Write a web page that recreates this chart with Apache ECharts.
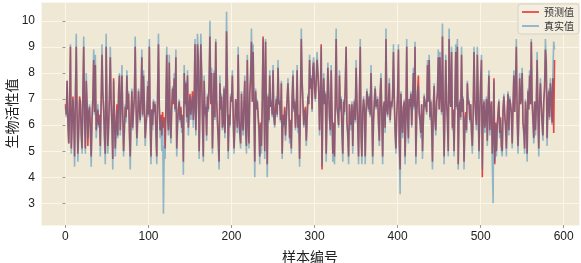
<!DOCTYPE html>
<html><head><meta charset="utf-8">
<script src="https://cdn.jsdelivr.net/npm/echarts@6/dist/echarts.min.js"></script>
<style>html,body{margin:0;padding:0;background:#fff}#c{width:581px;height:263px}</style>
</head><body><div id="c"></div>
<script>
const seriesNames = ['预测值', '真实值'];
const xAxisTitle = '样本编号';
const yAxisTitle = '生物活性值';

const trueVals = [
6.7,6.3,7.7,6.0,5.3,6.8,9.1,4.9,5.9,7.0,
6.1,4.4,7.2,9.5,6.3,4.6,5.8,7.0,6.8,5.6,
4.9,7.3,9.4,6.0,4.9,8.0,6.9,5.5,6.4,6.8,
5.7,4.4,6.2,7.1,8.9,6.4,8.7,5.5,6.1,6.8,
5.9,6.2,4.8,6.9,9.1,7.4,6.6,5.4,4.5,9.5,
6.8,4.9,5.8,7.2,9.0,6.8,5.9,4.3,7.7,6.2,
4.8,5.9,6.6,5.5,7.1,8.0,5.6,6.7,8.3,6.4,
4.8,5.7,6.8,6.1,8.1,6.6,7.3,5.6,4.3,6.2,
7.4,5.8,6.5,7.0,9.4,6.8,5.2,6.1,7.4,6.7,
6.1,7.2,8.9,6.3,8.1,6.9,5.2,5.9,6.4,7.7,
6.3,9.3,6.1,4.5,6.6,5.8,7.0,6.4,6.9,5.5,
4.5,7.3,9.5,6.8,5.5,6.3,5.0,6.2,2.6,5.2,
4.7,6.9,9.0,6.2,5.6,8.7,6.1,5.3,6.6,7.5,
6.9,8.0,6.5,8.9,4.8,5.9,6.5,7.0,6.1,6.6,
5.7,6.3,4.1,8.3,6.7,7.7,6.1,8.1,5.6,6.5,
7.1,6.2,6.6,7.1,5.9,6.7,9.3,5.6,6.9,9.5,
8.7,4.7,6.8,9.5,8.1,6.0,4.6,7.9,6.3,6.8,
5.4,7.2,6.5,7.8,10.0,6.9,8.2,4.9,6.4,8.1,
6.2,9.3,7.0,6.1,5.3,4.3,7.9,6.6,7.2,5.8,
6.0,7.5,5.5,6.7,10.35,7.8,4.7,6.3,5.9,7.2,
6.9,8.1,6.3,4.9,5.9,7.0,6.4,5.7,9.0,6.2,
5.5,5.1,7.3,6.0,5.6,6.9,7.9,5.6,4.9,8.7,
6.1,5.1,7.3,8.0,9.7,6.9,9.1,6.5,4.0,7.4,
6.6,7.0,6.3,5.7,4.5,6.0,4.9,6.8,9.3,7.2,
4.7,9.3,6.4,4.0,7.2,6.1,8.1,6.7,7.0,6.3,
8.3,6.2,5.9,6.6,7.1,6.3,8.5,6.8,7.0,6.1,
7.7,4.7,6.3,5.9,6.6,5.4,6.2,7.1,7.8,6.7,
5.3,6.1,4.9,7.1,8.1,6.5,7.0,5.8,6.4,8.3,
5.7,6.3,4.4,6.9,9.7,7.8,6.9,5.9,6.4,6.6,
5.2,6.1,7.2,6.8,8.7,7.4,7.9,6.5,8.4,8.6,
7.5,6.9,7.8,8.8,8.1,7.3,5.6,7.2,9.0,4.4,
7.1,8.0,6.8,7.3,4.6,6.6,8.4,7.4,6.2,5.6,
8.3,6.5,4.6,6.0,4.5,7.1,9.7,6.7,6.3,5.9,
8.1,6.5,7.1,5.6,4.6,7.0,6.4,7.6,9.0,6.0,
5.5,4.5,6.8,6.1,5.8,6.9,4.9,6.4,7.0,6.1,
8.5,7.0,5.9,4.5,7.0,9.3,5.5,4.5,6.5,7.1,
6.6,4.5,6.4,7.4,6.9,6.5,7.2,6.3,8.3,6.5,
4.5,6.1,7.0,7.5,6.6,6.8,7.1,6.0,5.2,7.3,
8.0,6.2,4.5,6.7,6.9,5.7,9.7,6.6,6.3,7.0,
7.8,6.1,6.9,6.6,7.2,9.1,7.0,5.6,4.9,6.3,
7.2,9.1,5.2,3.35,7.3,6.1,5.5,6.6,7.0,4.5,
6.3,9.3,6.2,5.3,7.0,6.6,7.3,5.9,6.9,8.2,
6.6,9.2,4.5,6.3,7.3,7.5,6.4,6.1,5.5,6.8,
4.7,6.1,7.2,6.6,7.0,6.4,8.5,6.9,8.7,6.2,
7.0,5.8,4.3,6.6,7.6,6.1,5.6,6.9,7.3,8.9,
6.6,8.8,7.2,6.4,9.9,6.8,4.5,6.5,8.7,6.9,
6.1,4.8,9.7,7.0,6.7,9.0,5.8,6.5,4.8,7.0,
9.1,6.6,9.3,4.3,6.5,7.0,6.2,9.0,6.5,7.1,
4.3,6.0,6.4,5.7,7.7,6.8,7.0,6.1,6.8,5.6,
4.9,6.3,9.0,7.1,6.3,5.8,9.0,7.2,4.7,6.4,
7.8,8.7,4.3,6.6,7.0,5.7,6.2,7.1,5.2,6.8,
8.1,5.6,6.4,6.9,4.6,3.0,7.7,4.6,6.0,4.8,
5.9,6.4,7.0,5.5,6.2,5.0,4.8,6.6,7.2,6.3,
5.9,4.8,6.4,7.3,5.6,7.1,6.8,6.4,5.1,6.7,
8.1,6.5,7.6,9.3,6.2,4.9,6.3,8.0,6.8,7.1,
8.2,6.0,5.6,4.9,7.0,6.2,4.6,7.4,6.6,8.1,
6.8,9.3,7.0,6.1,5.3,6.9,5.6,6.6,8.8,6.5,
4.8,6.9,7.8,6.8,6.0,5.4,6.9,7.5,9.3,8.6,
5.2,6.8,7.4,6.2,7.8,7.2,6.0,8.0,9.2,8.9
];

const predVals = [
6.8,6.4,7.7,6.1,5.3,6.7,9.0,5.1,6.0,7.1,
6.2,4.8,7.0,9.0,6.4,4.9,5.9,7.1,6.9,5.7,
5.1,7.2,9.0,6.3,5.1,7.7,6.8,5.2,6.5,6.7,
5.9,4.8,6.3,7.0,8.5,6.5,8.3,5.8,6.2,6.6,
6.0,6.4,5.2,6.9,8.7,7.2,6.6,5.6,4.9,9.0,
6.6,5.2,6.0,7.1,8.6,6.9,6.0,4.7,7.8,6.3,
5.1,6.0,6.8,5.6,7.3,7.9,5.8,6.8,7.9,6.4,
5.0,5.9,6.7,6.3,7.9,6.6,7.2,5.8,4.8,6.4,
7.3,5.9,6.6,7.1,9.0,6.7,5.5,6.3,7.3,6.6,
6.2,7.1,8.6,6.4,7.9,6.8,5.5,6.0,6.5,7.5,
6.4,9.0,6.2,4.8,6.6,6.0,6.9,6.5,6.8,5.7,
4.8,7.2,9.1,6.7,5.8,6.4,5.6,6.5,5.9,6.3,
5.1,6.8,8.7,6.3,5.8,8.4,6.2,5.5,6.7,7.4,
6.8,7.8,6.6,8.6,5.1,6.1,6.6,6.9,6.2,6.7,
5.9,6.4,4.6,8.0,6.8,7.6,6.3,7.9,5.9,6.6,
7.2,6.4,6.8,7.3,6.2,6.8,9.1,5.8,6.9,9.1,
8.5,5.0,6.8,9.1,7.9,6.2,4.8,7.7,6.4,6.7,
5.6,7.1,6.6,7.6,9.4,6.8,8.0,5.1,6.5,8.0,
6.3,9.2,7.0,6.2,5.5,4.6,7.6,6.6,7.1,5.9,
6.1,7.4,5.7,6.7,9.6,7.6,5.0,6.4,6.0,7.1,
6.9,7.9,6.4,5.1,6.0,7.0,6.5,5.9,8.7,6.3,
5.7,5.3,7.2,6.1,5.8,6.9,7.7,5.8,5.2,8.5,
6.2,5.3,7.2,7.8,9.2,6.9,8.8,6.5,4.6,7.3,
6.6,6.9,6.4,5.9,4.8,6.1,5.2,6.8,9.4,7.1,
5.0,9.2,6.4,4.5,7.1,6.2,7.9,6.7,6.9,6.4,
8.1,6.3,6.0,6.7,7.0,6.4,8.2,6.8,6.9,6.2,
7.6,4.9,6.4,6.0,6.7,5.6,6.3,7.0,7.6,6.7,
5.5,6.2,5.1,7.0,7.9,6.6,6.9,5.9,6.5,8.1,
5.9,6.4,4.7,6.9,9.3,7.6,6.8,6.0,6.5,6.7,
5.4,6.2,7.1,6.8,8.5,7.4,7.8,6.6,8.2,8.4,
7.4,7.0,7.7,8.5,8.0,7.3,5.8,7.1,9.1,4.3,
7.0,7.8,6.8,7.2,4.9,6.6,8.2,7.3,6.3,5.8,
8.1,6.5,4.9,6.1,4.8,7.0,9.3,6.7,6.4,6.0,
7.9,6.6,7.0,5.8,4.9,6.9,6.5,7.5,9.0,6.1,
5.7,4.8,6.8,6.2,6.0,6.8,5.2,6.5,6.9,6.2,
8.2,6.9,6.0,4.8,6.9,9.0,5.7,4.8,6.5,7.0,
6.6,4.8,6.5,7.3,6.9,6.6,7.1,6.4,8.0,6.5,
4.8,6.2,6.9,7.4,6.7,6.8,7.0,6.1,5.4,7.2,
7.8,6.3,4.8,6.7,6.9,5.9,9.3,6.6,6.4,6.9,
7.6,6.2,6.9,6.7,7.1,8.8,7.0,5.8,5.1,6.4,
7.1,8.9,5.4,4.3,7.2,6.2,5.7,6.7,6.9,4.8,
6.4,9.0,6.3,5.5,7.0,6.7,7.2,6.0,6.9,8.0,
6.7,9.0,4.8,6.4,7.2,7.9,6.5,6.2,5.7,6.8,
5.0,6.2,7.1,6.7,6.9,6.5,8.3,6.9,8.5,6.3,
6.9,6.0,4.6,6.7,7.5,6.2,5.8,6.9,7.2,8.6,
6.6,8.6,7.1,6.5,9.4,6.8,4.8,6.6,8.5,6.9,
6.2,5.0,9.3,7.0,6.7,8.8,5.9,6.6,5.0,6.9,
8.8,6.7,9.0,4.5,6.6,6.9,6.3,8.7,6.5,7.0,
4.6,6.1,6.5,5.8,7.6,6.8,6.9,6.2,6.8,5.8,
5.2,6.4,8.8,7.0,6.4,6.0,8.7,7.1,5.0,6.5,
7.6,8.5,4.0,6.6,6.9,5.9,6.3,7.0,5.4,6.8,
7.9,5.8,6.5,6.9,4.9,5.5,7.8,4.5,6.1,5.0,
6.0,6.5,6.9,5.7,6.3,5.2,5.0,6.6,7.1,6.4,
6.0,5.1,6.5,7.2,5.8,7.0,6.8,6.5,5.3,6.7,
7.9,6.5,7.5,9.0,6.3,5.2,6.4,7.8,6.8,7.0,
8.0,6.1,5.8,5.1,6.9,6.3,4.9,7.3,6.6,7.9,
6.8,9.2,6.9,6.2,5.5,6.9,5.8,6.7,8.5,6.5,
5.1,6.9,7.6,6.8,6.1,5.6,6.9,7.4,8.9,8.4,
5.5,6.8,7.3,6.3,7.6,7.1,6.1,7.8,5.7,8.5
];

const xMin = -29.45, xMax = 618.45;
const yMin = 2.17, yMax = 10.72;

const predData = predVals.map((v, i) => [i, v]);
const trueData = trueVals.map((v, i) => [i, v]);

const FONT = "'Liberation Sans', Arial, 'Noto Sans CJK SC', sans-serif";
const GRID = {left: 41, right: 2, top: 2, bottom: 38};
const chart = echarts.init(document.getElementById('c'), null, {renderer: 'canvas'});
chart.setOption({
  animation: false,
  backgroundColor: '#ffffff',
  textStyle: {fontFamily: FONT},
  graphic: [{
    type: 'rect', z: -10, silent: true,
    shape: {x: GRID.left, y: GRID.top, width: 581 - GRID.left - GRID.right, height: 263 - GRID.top - GRID.bottom},
    style: {fill: '#eee8d5'}
  }],
  grid: {left: GRID.left, right: GRID.right, top: GRID.top, bottom: GRID.bottom, show: false, containLabel: false, outerBoundsMode: 'none'},
  legend: {
    orient: 'vertical', right: 2, top: 4,
    itemWidth: 17, itemHeight: 2, itemGap: 4,
    padding: [3, 5, 3, 4],
    backgroundColor: 'rgba(244,239,226,0.85)',
    borderColor: '#d8d2c4', borderWidth: 1, borderRadius: 3,
    icon: 'rect',
    textStyle: {fontSize: 10, color: '#333', fontFamily: "'Noto Sans CJK SC', sans-serif"},
    data: [
      {name: seriesNames[0], itemStyle: {color: 'rgba(228,26,28,0.7)'}},
      {name: seriesNames[1], itemStyle: {color: 'rgba(31,119,180,0.45)'}}
    ]
  },
  xAxis: {
    type: 'value', min: xMin, max: xMax, minInterval: 100, maxInterval: 100,
    name: xAxisTitle, nameLocation: 'middle', nameGap: 25, nameMoveOverlap: false,
    nameTextStyle: {fontSize: 14, color: '#222', fontFamily: "'Noto Sans CJK SC', sans-serif"},
    axisLine: {show: false},
    axisTick: {show: true, length: 3, lineStyle: {color: '#999'}},
    axisLabel: {fontSize: 12, color: '#222', margin: 6, showMinLabel: false, showMaxLabel: false},
    splitLine: {show: true, lineStyle: {color: '#fbf6e8', width: 1}}
  },
  yAxis: {
    type: 'value', min: yMin, max: yMax, minInterval: 1, maxInterval: 1,
    name: yAxisTitle, nameLocation: 'middle', nameGap: 22, nameRotate: 90, nameMoveOverlap: false,
    nameTextStyle: {fontSize: 14, color: '#222', fontFamily: "'Noto Sans CJK SC', sans-serif"},
    axisLine: {show: false},
    axisTick: {show: true, length: 3, lineStyle: {color: '#999'}},
    axisLabel: {fontSize: 12, color: '#222', margin: 6, showMinLabel: false, showMaxLabel: false},
    splitLine: {show: true, lineStyle: {color: '#fbf6e8', width: 1}}
  },
  series: [
    {
      name: seriesNames[0], type: 'line', data: predData, showSymbol: false, symbol: 'none',
      sampling: null, color: '#e41a1c',
      lineStyle: {color: '#e41a1c', width: 1.6, opacity: 0.8}
    },
    {
      name: seriesNames[1], type: 'line', data: trueData, showSymbol: false, symbol: 'none',
      sampling: null, color: '#1f77b4',
      lineStyle: {color: '#1f77b4', width: 1.6, opacity: 0.45}
    }
  ]
});
</script>
</body></html>
